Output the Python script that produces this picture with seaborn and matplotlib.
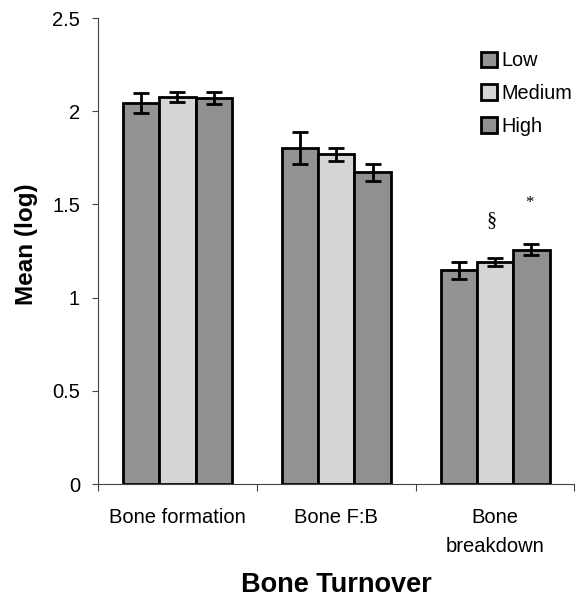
import numpy as np
import pandas as pd
import matplotlib
matplotlib.use("Agg")
import matplotlib.pyplot as plt
import seaborn as sns

# ---- data ----
categories = ["Bone formation", "Bone F:B", "Bone\nbreakdown"]
levels = ["Low", "Medium", "High"]
low_mean = [2.045, 1.803, 1.146]
medium_mean = [2.077, 1.768, 1.192]
high_mean = [2.073, 1.673, 1.256]
low_err = [0.055, 0.085, 0.046]
medium_err = [0.027, 0.034, 0.020]
high_err = [0.032, 0.046, 0.030]
markers = {("Bone\nbreakdown", "Medium"): "\u00a7", ("Bone\nbreakdown", "High"): "*"}
y_ticks = [0, 0.5, 1, 1.5, 2, 2.5]
y_tick_labels = ["0", "0.5", "1", "1.5", "2", "2.5"]

means = {"Low": low_mean, "Medium": medium_mean, "High": high_mean}
errs = {"Low": low_err, "Medium": medium_err, "High": high_err}
rows = []
for lev in levels:
    for i, c in enumerate(categories):
        rows.append({"category": c, "level": lev, "mean": means[lev][i], "err": errs[lev][i]})
df = pd.DataFrame(rows)

sns.set_theme(style="white")
plt.rcParams["font.family"] = ["Liberation Sans", "DejaVu Sans"]
plt.rcParams["text.color"] = "black"
plt.rcParams["axes.labelcolor"] = "black"
plt.rcParams["xtick.color"] = "black"
plt.rcParams["ytick.color"] = "black"

fig = plt.figure(figsize=(5.76, 5.99), dpi=100)
ax = fig.add_axes([98 / 576, 1 - 484 / 599, (574.5 - 98) / 576, (484 - 18) / 599])

palette = {"Low": "#939393", "Medium": "#d6d6d6", "High": "#909090"}
sns.barplot(data=df, x="category", y="mean", hue="level", order=categories,
            hue_order=levels, palette=palette, edgecolor="black", linewidth=2.0,
            width=0.686, errorbar=None, ax=ax, saturation=1)

# error bars from bar positions
for cont, lev in zip(ax.containers, levels):
    for bar, c in zip(cont, categories):
        xc = bar.get_x() + bar.get_width() / 2
        h = bar.get_height()
        e = df[(df.level == lev) & (df.category == c)]["err"].iloc[0]
        ax.errorbar(xc, h, yerr=e, fmt="none", ecolor="black", elinewidth=2.0,
                    capsize=5.8, capthick=2.0, zorder=5)
        key = (c, lev)
        if key in markers:
            sym = markers[key]
            if sym == "*":
                ax.text(xc - 0.015, h + e + 0.22, sym, ha="center", va="center",
                        fontsize=12, family="Liberation Serif", color="black")
            else:
                ax.text(xc - 0.02, h + e + 0.20, sym, ha="center", va="center",
                        fontsize=14.5, family="Liberation Serif", color="black")

ax.set_ylim(0, 2.5)
ax.set_xlim(-0.5, 2.5)
ax.set_yticks(y_ticks)
ax.set_yticklabels(y_tick_labels)
ax.tick_params(axis="y", which="major", direction="out", length=4, width=0.8,
               color="#444444", labelsize=14.5, pad=9, left=True)
ax.set_xticks(range(len(categories)))
ax.set_xticklabels(categories, linespacing=1.7)
ax.tick_params(axis="x", which="major", length=0, labelsize=14.5, pad=17)
ax.set_xticks([-0.5, 0.5, 1.5, 2.5], minor=True)
ax.tick_params(axis="x", which="minor", direction="out", length=5, width=0.8,
               color="#444444", bottom=True)

for s in ["top", "right"]:
    ax.spines[s].set_visible(False)
for s in ["left", "bottom"]:
    ax.spines[s].set_color("#444444")
    ax.spines[s].set_linewidth(0.8)

ax.set_xlabel("Bone Turnover", fontsize=19.5, fontweight="bold")
ax.xaxis.set_label_coords(0.5, (484 - 585) / 466)
ax.xaxis.label.set_va("center")
ax.set_ylabel("Mean (log)", fontsize=17.5, fontweight="bold")
ax.yaxis.set_label_coords((26 - 98) / 476.5, (484 - 244) / 466)
ax.yaxis.label.set_va("center")

leg = ax.legend(loc="upper left", bbox_to_anchor=(481 / 576, 1 - 51 / 599),
                bbox_transform=fig.transFigure, frameon=False, fontsize=14.3,
                handlelength=0.8, handleheight=0.8, handletextpad=0.22,
                labelspacing=0.7, borderpad=0, borderaxespad=0)
for p in leg.get_patches():
    p.set_linewidth(2.0)
    p.set_edgecolor("black")

fig.savefig("out.png", dpi=100)
